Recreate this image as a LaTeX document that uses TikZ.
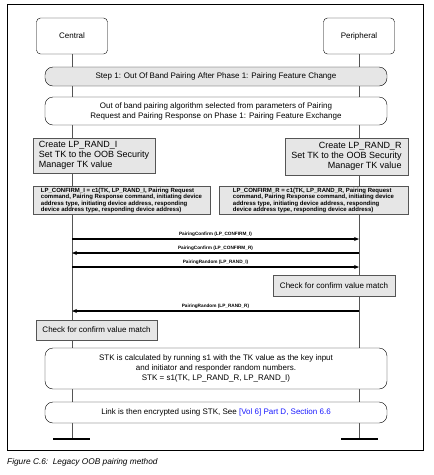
\documentclass[tikz,border=0pt]{standalone}
\usepackage{fontspec}
\setmainfont{Liberation Sans}
\usetikzlibrary{arrows.meta}
\definecolor{boxgray}{HTML}{E6E6E6}
\definecolor{linkblue}{HTML}{1A1AFF}
\definecolor{lifegray}{HTML}{555555}
\begin{document}
\begin{tikzpicture}[x=1pt,y=-1pt,
  actor/.style={draw, rounded corners=4pt, fill=white, minimum width=71pt, minimum height=36pt, inner sep=1pt, font=\fontsize{8}{9.5}\selectfont},
  band/.style={draw, rounded corners=8pt, fill=white, minimum width=342pt, inner sep=1pt, align=center, font=\fontsize{8}{10}\selectfont},
  createbox/.style={draw=lifegray, line width=0.9pt, fill=boxgray, inner sep=1pt, font=\fontsize{9}{10.2}\selectfont},
  confbox/.style={draw=lifegray, line width=0.9pt, fill=boxgray, inner sep=1pt, align=left, font=\fontsize{6}{5.6}\selectfont\bfseries},
  checkbox/.style={draw=lifegray, line width=0.8pt, fill=boxgray, inner sep=1pt, font=\fontsize{8}{9.5}\selectfont},
  lifeline/.style={draw=lifegray, line width=0.8pt},
  endbar/.style={draw, line width=1.6pt},
  msg/.style={draw, line width=1.1pt, -{Stealth[length=5pt,width=4pt]}},
  lbl/.style={font=\fontsize{4.7}{5}\selectfont\bfseries, inner sep=1.5pt}
]
\useasboundingbox (0,0) rectangle (434,475);
\draw[line width=0.8pt] (7,4) rectangle (423,450);

% actors
\node[actor] (central) at (72,36) {Central};
\node[actor] (peripheral) at (359,36) {Peripheral};
\coordinate (cend) at (72,439);
\coordinate (pend) at (359,439);
\draw[lifeline] (central.south) -- (cend);
\draw[lifeline] (peripheral.south) -- (pend);
\coordinate (cbl) at (53,439); \coordinate (cbr) at (90,439);
\coordinate (pbl) at (341,439); \coordinate (pbr) at (378,439);
\draw[endbar] (cbl) -- (cbr);
\draw[endbar] (pbl) -- (pbr);

% bands
\node[band, fill=boxgray, minimum height=19pt] (step) at (216,76.5) {Step 1: Out Of Band Pairing After Phase 1: Pairing Feature Change};
\node[band, minimum height=28pt] (oob) at (216,111) {Out of band pairing algorithm selected from parameters of Pairing\\Request and Pairing Response on Phase 1: Pairing Feature Exchange};

% create boxes
\node[createbox, align=left, minimum width=122pt, minimum height=35pt] (createI) at (94,155.5) {Create LP\_RAND\_I\\Set TK to the OOB Security\\Manager TK value};
\node[createbox, align=right, minimum width=123pt, minimum height=37pt] (createR) at (346.5,156.5) {Create LP\_RAND\_R\\Set TK to the OOB Security\\Manager TK value};

% confirm boxes
\node[confbox, minimum width=177pt, minimum height=25pt] (confI) at (121.5,200.5) {LP\_CONFIRM\_I = c1(TK, LP\_RAND\_I, Pairing Request\\command, Pairing Response command, initiating device\\address type, initiating device address, responding\\device address type, responding device address)};
\node[confbox, minimum width=189pt, minimum height=25pt] (confR) at (313.5,200.5) {LP\_CONFIRM\_R = c1(TK, LP\_RAND\_R, Pairing Request\\command, Pairing Response command, initiating device\\address type, initiating device address, responding\\device address type, responding device address)};

% messages
\coordinate (c1) at (72,239); \coordinate (p1) at (359,239);
\coordinate (c2) at (72,253); \coordinate (p2) at (359,253);
\coordinate (c3) at (72,267); \coordinate (p3) at (359,267);
\coordinate (c4) at (72,311); \coordinate (p4) at (359,311);
\draw[msg] (c1) -- node[above, lbl] (m1) {PairingConfirm (LP\_CONFIRM\_I)} (p1);
\draw[msg] (p2) -- node[above, lbl] (m2) {PairingConfirm (LP\_CONFIRM\_R)} (c2);
\draw[msg] (c3) -- node[above, lbl] (m3) {PairingRandom (LP\_RAND\_I)} (p3);
\node[checkbox, minimum width=122pt, minimum height=21pt] (checkR) at (334,285.5) {Check for confirm value match};
\draw[msg] (p4) -- node[above, lbl] (m4) {PairingRandom (LP\_RAND\_R)} (c4);
\node[checkbox, minimum width=121pt, minimum height=20pt] (checkI) at (96.5,330) {Check for confirm value match};

% final bands
\node[band, minimum height=41pt] (stk) at (216,368.5) {STK is calculated by running s1 with the TK value as the key input\\and initiator and responder random numbers.\\STK = s1(TK, LP\_RAND\_R, LP\_RAND\_I)};
\node[band, minimum height=21pt] (link) at (216,412.5) {Link is then encrypted using STK, See \textcolor{linkblue}{[Vol 6] Part D, Section 6.6}};

% caption
\node[anchor=west, inner sep=0pt, font=\fontsize{8.3}{10}\selectfont\itshape] (caption) at (7,462) {Figure C.6:\ \ Legacy OOB pairing method};
\end{tikzpicture}
\end{document}
